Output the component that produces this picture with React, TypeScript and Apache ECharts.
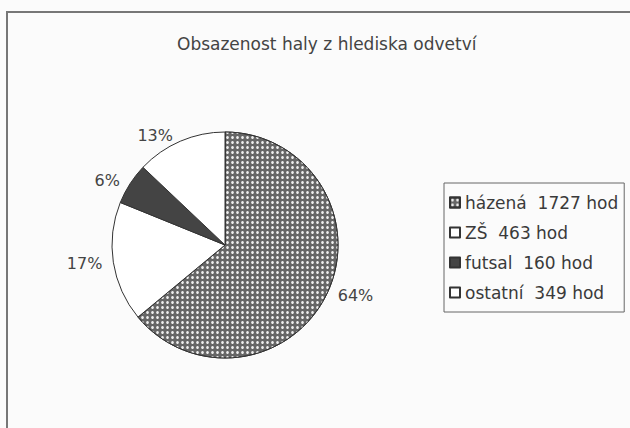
import React, { useEffect, useRef } from "react";
import * as echarts from "echarts";

const categories = ["házená", "ZŠ", "futsal", "ostatní"];
const hours = [1727, 463, 160, 349];
const percentLabels = ["64%", "17%", "6%", "13%"];
const fills = ["#666666", "#ffffff", "#444444", "#ffffff"];

const FONT = "DejaVu Sans, Liberation Sans, Arial";

export default function App() {
  const ref = useRef<HTMLDivElement>(null);
  useEffect(() => {
    const chart = echarts.init(ref.current!, null, { renderer: "svg" });
    const data = categories.map((name, i) => ({
      name,
      value: hours[i],
      itemStyle: {
        color: fills[i],
        borderColor: "#333",
        borderWidth: 1,
        decal:
          i === 0
            ? {
                symbol: "circle",
                symbolSize: 0.55,
                color: "#eeeeee",
                dashArrayX: [5, 0],
                dashArrayY: [5, 0],
                rotation: 0,
              }
            : "none",
      },
      label: { formatter: percentLabels[i] },
    }));
    chart.setOption({
      animation: false,
      backgroundColor: "#fbfbfb",
      title: {
        text: "Obsazenost haly z hlediska odvetví",
        left: 172,
        top: 30,
        textStyle: {
          fontFamily: FONT,
          fontSize: 17,
          fontWeight: "normal",
          color: "#444",
        },
      },
      legend: {
        orient: "vertical",
        left: 444,
        top: 183,
        borderColor: "#666",
        borderWidth: 1,
        padding: [11, 6, 11, 5],
        itemGap: 13,
        itemWidth: 10,
        itemHeight: 10,
        icon: "rect",
        data: categories,
        formatter: (name: string) => {
          const i = categories.indexOf(name);
          return name + "  " + hours[i] + " hod";
        },
        textStyle: {
          fontFamily: FONT,
          fontSize: 17,
          color: "#3a3a3a",
        },
      },
      graphic: [
        {
          type: "rect",
          shape: { x: 7, y: 12, width: 640, height: 440 },
          style: { fill: "none", stroke: "#777", lineWidth: 2 },
          silent: true,
        },
      ],
      series: [
        {
          type: "pie",
          center: [225, 245],
          radius: 113,
          startAngle: 90,
          clockwise: true,
          data,
          label: {
            show: true,
            position: "outside",
            fontFamily: FONT,
            fontSize: 16,
            color: "#444",
          },
          labelLine: { show: false, length: 6, length2: 0 },
          emphasis: { disabled: true },
        },
      ],
    });
    return () => chart.dispose();
  }, []);
  return (
    <div
      ref={ref}
      style={{ position: "absolute", left: 0, top: 0, width: 630, height: 428 }}
    />
  );
}
